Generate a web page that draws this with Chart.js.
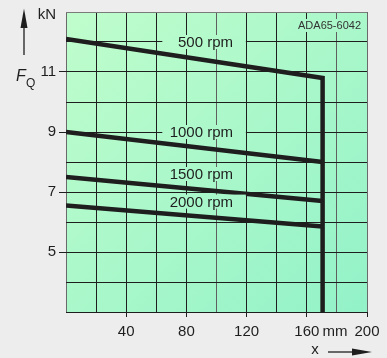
<!DOCTYPE html>
<html lang="en">
<head>
  <meta charset="UTF-8">
  <title>FQ over stroke x</title>
  <style>
    body { margin: 0; background: #ededed; }
    #wrap { width: 387px; height: 358px; }
  </style>
</head>
<body>
  <div id="wrap"><canvas id="forceChart" width="387" height="358"></canvas></div>

  <script src="https://cdn.jsdelivr.net/npm/chart.js"></script>
  <script>
    // values (x in mm, FQ in kN)
    const strokeX = [0, 170.5];
    const rpm500 = [12.1, 10.8];
    const rpm1000 = [9.0, 8.0];
    const rpm1500 = [7.5, 6.7];
    const rpm2000 = [6.55, 5.85];
    const limitX = 170.5;
    const limitY = [10.8, 3];
    const seriesNames = ['500 rpm', '1000 rpm', '1500 rpm', '2000 rpm'];
    const xTickLabels = [40, 80, 120, 160, 200];
    const yTickLabels = [5, 7, 9, 11];

    const FONT = "'Liberation Sans', Arial, sans-serif";
    const INK = '#1e1e1e';

    function pts(xs, ys) {
      return xs.map((x, i) => ({ x: x, y: ys[i] }));
    }

    // label anchors in data units
    const labelPos = [
      { x: 111, y: 12 },
      { x: 111, y: 9 },
      { x: 111, y: 7.6 },
      { x: 111, y: 6.68 }
    ];

    const decor = {
      id: 'decor',
      beforeDraw(chart) {
        const { ctx, chartArea: a } = chart;
        const g = ctx.createLinearGradient(a.left, a.top, a.right, a.bottom);
        g.addColorStop(0, '#c0fdcc');
        g.addColorStop(1, '#93f2c8');
        chart.$bg = g;
        ctx.save();
        ctx.fillStyle = g;
        ctx.fillRect(a.left, a.top, a.right - a.left, a.bottom - a.top);
        ctx.restore();
      },
      afterDatasetsDraw(chart) {
        const { ctx, chartArea: a, scales } = chart;
        const xs = scales.x, ys = scales.y;
        ctx.save();

        // curve labels on boxes of plot colour
        ctx.font = '15px ' + FONT;
        ctx.textBaseline = 'middle';
        ctx.textAlign = 'right';
        seriesNames.forEach((name, i) => {
          const px = xs.getPixelForValue(labelPos[i].x);
          const py = ys.getPixelForValue(labelPos[i].y);
          const bl = xs.getPixelForValue(64);
          const br = xs.getPixelForValue(119.5);
          ctx.fillStyle = chart.$bg;
          ctx.fillRect(bl, py - 7, br - bl, 14);
          ctx.fillStyle = INK;
          ctx.fillText(name, px, py + 1);
        });

        // drawing number
        ctx.font = '11px ' + FONT;
        const code = 'ADA65-6042';
        const cw = ctx.measureText(code).width;
        ctx.fillStyle = chart.$bg;
        ctx.fillRect(a.right - 6 - cw - 2, 19, cw + 4, 13);
        ctx.fillStyle = '#333';
        ctx.fillText(code, a.right - 6, 26);

        // y axis title with arrow
        ctx.fillStyle = INK;
        ctx.textAlign = 'center';
        ctx.font = '15px ' + FONT;
        ctx.fillText('kN', a.left - 19, 15);
        ctx.textAlign = 'left';
        ctx.font = 'italic 16px ' + FONT;
        ctx.fillText('F', 16, 77);
        ctx.font = '12px ' + FONT;
        ctx.fillText('Q', 26, 84);

        ctx.strokeStyle = INK;
        ctx.lineWidth = 1.3;
        ctx.beginPath();
        ctx.moveTo(24, 55);
        ctx.lineTo(24, 22);
        ctx.stroke();
        ctx.beginPath();
        ctx.moveTo(24, 8.5);
        ctx.lineTo(20.5, 28);
        ctx.lineTo(27.5, 28);
        ctx.closePath();
        ctx.fill();

        // x axis unit and title with arrow
        ctx.font = '15px ' + FONT;
        ctx.textAlign = 'center';
        ctx.fillText('mm', 335, 332);
        ctx.fillText('x', 315, 350);
        ctx.beginPath();
        ctx.moveTo(328, 352);
        ctx.lineTo(356, 352);
        ctx.stroke();
        ctx.beginPath();
        ctx.moveTo(372, 352);
        ctx.lineTo(352, 348.5);
        ctx.lineTo(352, 355.5);
        ctx.closePath();
        ctx.fill();

        ctx.restore();
      }
    };

    const lineStyle = {
      borderColor: INK,
      borderWidth: 4.5,
      pointRadius: 0,
      showLine: true,
      fill: false,
      tension: 0,
      borderJoinStyle: 'miter',
      borderCapStyle: 'butt'
    };

    const ctx = document.getElementById('forceChart').getContext('2d');
    new Chart(ctx, {
      type: 'scatter',
      data: {
        datasets: [
          Object.assign({ label: seriesNames[0], data: pts(strokeX, rpm500).concat(pts([limitX, limitX], limitY)) }, lineStyle),
          Object.assign({ label: seriesNames[1], data: pts(strokeX, rpm1000) }, lineStyle),
          Object.assign({ label: seriesNames[2], data: pts(strokeX, rpm1500) }, lineStyle),
          Object.assign({ label: seriesNames[3], data: pts(strokeX, rpm2000) }, lineStyle)
        ]
      },
      options: {
        responsive: false,
        animation: false,
        layout: { padding: { top: 11, right: 20, left: 0, bottom: 0 } },
        plugins: {
          legend: { display: false },
          tooltip: { enabled: false }
        },
        scales: {
          x: {
            type: 'linear',
            min: 0,
            max: 200,
            afterFit(scale) { scale.height = 46; },
            border: { display: false },
            grid: {
              color(c) {
                const v = c.tick && c.tick.value;
                if (v === 0 || v === 200) return '#6a6a6a';
                if (v === 100 || v === 180) return '#5f5f5f';
                return INK;
              },
              lineWidth: 1,
              tickLength: 5,
              tickColor(c) {
                return xTickLabels.includes(c.tick && c.tick.value) ? INK : 'rgba(0,0,0,0)';
              }
            },
            ticks: {
              stepSize: 20,
              autoSkip: false,
              maxRotation: 0,
              padding: 6,
              color: INK,
              font: { family: FONT, size: 15 },
              callback(v) { return xTickLabels.includes(v) ? String(v) : ''; }
            }
          },
          y: {
            type: 'linear',
            min: 3,
            max: 13,
            afterFit(scale) { scale.width = 66; },
            border: { display: false },
            grid: {
              color(c) {
                const v = c.tick && c.tick.value;
                if (v === 13) return '#7a7a7a';
                return INK;
              },
              lineWidth: 1,
              tickLength: 7,
              tickColor(c) {
                return yTickLabels.includes(c.tick && c.tick.value) ? INK : 'rgba(0,0,0,0)';
              }
            },
            ticks: {
              stepSize: 1,
              autoSkip: false,
              padding: 3,
              color: INK,
              font: { family: FONT, size: 15 },
              callback(v) { return yTickLabels.includes(v) ? String(v) : ''; }
            }
          }
        }
      },
      plugins: [decor]
    });
  </script>
</body>
</html>
